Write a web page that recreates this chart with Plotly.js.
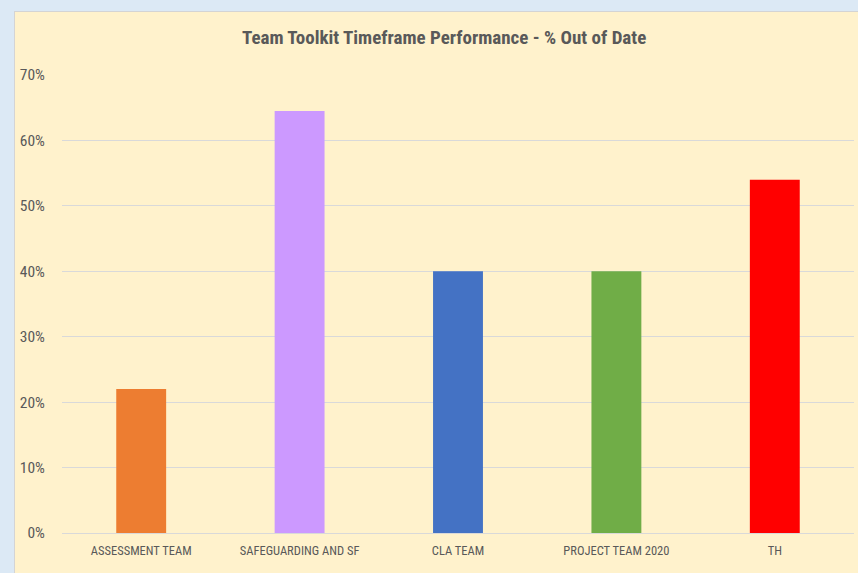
<!DOCTYPE html>
<html>
<head>
<meta charset="utf-8">
<script src="https://cdn.plot.ly/plotly-3.0.1.min.js"></script>
<style>
  html, body { margin: 0; padding: 0; background: #dce9f5; width: 858px; height: 573px; overflow: hidden; }
  #chart { position: absolute; left: 14px; top: 11px; width: 844px; height: 562px;
           border-left: 1px solid #d4d4d4; border-top: 1px solid #d4d4d4; box-sizing: border-box; }
</style>
</head>
<body>
<div id="chart"></div>
<script>
const categories = ["ASSESSMENT TEAM", "SAFEGUARDING AND SF", "CLA TEAM", "PROJECT TEAM 2020", "TH"];
const values = [0.22, 0.645, 0.40, 0.40, 0.54];
const colors = ["#ed7d31", "#cc99ff", "#4472c4", "#70ad47", "#ff0000"];
const titleText = "Team Toolkit Timeframe Performance - % Out of Date";

const font = "'Liberation Sans Narrow', 'Roboto Condensed', 'Open Sans', sans-serif";

Plotly.newPlot("chart", [{
  type: "bar",
  x: categories,
  y: values,
  marker: { color: colors },
  width: 0.315,
  hoverinfo: "skip"
}], {
  width: 843,
  height: 561,
  paper_bgcolor: "#fff2cc",
  plot_bgcolor: "#fff2cc",
  margin: { l: 47, r: 4, t: 63, b: 40 },
  showlegend: false,
  title: {
    text: titleText,
    font: { family: font, size: 19, color: "#595959", weight: "bold" },
    x: 0.509, xanchor: "center",
    y: 0.955, yanchor: "middle"
  },
  xaxis: {
    tickfont: { family: font, size: 12.5, color: "#595959" },
    showline: true, linecolor: "#d9d9d9", linewidth: 1,
    ticks: "outside", ticklen: 6, tickcolor: "rgba(0,0,0,0)",
    showgrid: false, fixedrange: true
  },
  yaxis: {
    range: [0, 0.7], dtick: 0.1, tickformat: ".0%",
    tickfont: { family: font, size: 15.5, color: "#595959" },
    gridcolor: "#d9d9d9", gridwidth: 1,
    zeroline: true, zerolinecolor: "#d9d9d9",
    ticks: "outside", ticklen: 13, tickcolor: "rgba(0,0,0,0)",
    fixedrange: true
  },
  font: { family: font }
}, { displayModeBar: false, staticPlot: true });
</script>
</body>
</html>
